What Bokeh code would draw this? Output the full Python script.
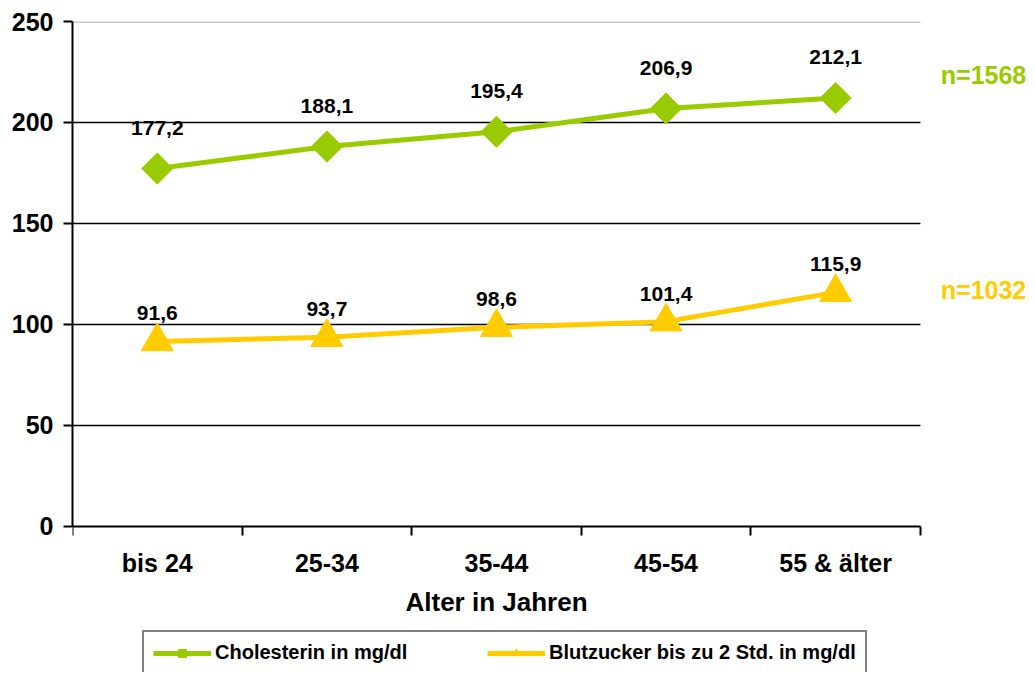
from bokeh.plotting import figure
from bokeh.models import (ColumnDataSource, Range1d, FixedTicker,
                          Legend, LegendItem, Label)
from bokeh.core.properties import value
from bokeh.embed import file_html
from bokeh.resources import INLINE
import numpy as np

categories = ["bis 24", "25-34", "35-44", "45-54", "55 & älter"]
cholesterin = [177.2, 188.1, 195.4, 206.9, 212.1]
blutzucker = [91.6, 93.7, 98.6, 101.4, 115.9]
series_names = ["Cholesterin in mg/dl", "Blutzucker bis zu 2 Std. in mg/dl"]
n_labels = ["n=1568", "n=1032"]
y_ticks = [0, 50, 100, 150, 200, 250]
x_title = "Alter in Jahren"

GREEN = "#99CC00"
YELLOW = "#FFCC00"
FONT = "Liberation Sans"

def fmt(v):
    return f"{v:.1f}".replace(".", ",")

ncat = len(categories)
# category slot centres on a linear scale (slot i spans [i, i+1])
xpos = [i + 0.5 for i in range(ncat)]

src_g = ColumnDataSource(dict(x=xpos, y=cholesterin, t=[fmt(v) for v in cholesterin]))
src_y = ColumnDataSource(dict(x=xpos, y=blutzucker, t=[fmt(v) for v in blutzucker]))

# the frame is extended right and down so that n= labels and the legend are not clipped;
# the axes are pinned to the category area
p = figure(width=1032, height=672, output_backend="svg", toolbar_location=None,
           x_range=Range1d(0, ncat + 0.649), y_range=Range1d(-72.3, 250),
           min_border_left=72, min_border_right=2,
           min_border_top=21, min_border_bottom=0)
p.outline_line_color = None
p.background_fill_color = "white"
p.border_fill_color = "white"
p.xgrid.visible = False
p.ygrid.visible = False

grid_y = [t for t in y_ticks if 0 < t < y_ticks[-1]]
p.segment(x0=[0] * len(grid_y), x1=[ncat] * len(grid_y), y0=grid_y, y1=grid_y,
          line_color="black", line_width=1.5)
p.segment(x0=[0], x1=[ncat], y0=[y_ticks[-1]], y1=[y_ticks[-1]],
          line_color="#c8c8c8", line_width=3)

xaxis = p.xaxis[0]
xaxis.fixed_location = 0
xaxis.bounds = (0, ncat)
xaxis.ticker = FixedTicker(ticks=xpos, minor_ticks=list(range(ncat + 1)))
xaxis.major_label_overrides = {c: lab for c, lab in zip(xpos, categories)}
xaxis.axis_line_color = "black"
xaxis.axis_line_width = 2
xaxis.major_tick_line_color = None
xaxis.major_tick_out = 0
xaxis.major_tick_in = 0
xaxis.minor_tick_line_color = "black"
xaxis.minor_tick_line_width = 2
xaxis.minor_tick_out = 9
xaxis.minor_tick_in = 0
xaxis.major_label_standoff = 14
xaxis.major_label_text_font = FONT
xaxis.major_label_text_font_style = "bold"
xaxis.major_label_text_font_size = "25px"
xaxis.major_label_text_color = "black"
xaxis.axis_label = x_title
xaxis.axis_label_standoff = 6
xaxis.axis_label_text_font = FONT
xaxis.axis_label_text_font_style = "bold"
xaxis.axis_label_text_font_size = "26px"
xaxis.axis_label_text_color = "black"

ya = p.yaxis[0]
ya.bounds = (0, y_ticks[-1])
ya.ticker = FixedTicker(ticks=y_ticks)
ya.axis_line_color = "black"
ya.axis_line_width = 2
ya.major_tick_line_color = "black"
ya.major_tick_line_width = 2
ya.major_tick_out = 9
ya.major_tick_in = 0
ya.minor_tick_line_color = None
ya.major_label_standoff = 10
ya.major_label_text_font = FONT
ya.major_label_text_font_style = "bold"
ya.major_label_text_font_size = "25px"
ya.major_label_text_color = "black"

lg = p.line("x", "y", source=src_g, line_color=GREEN, line_width=5)
sg = p.scatter("x", "y", source=src_g, marker="square", angle=np.pi / 4, size=22,
               fill_color=GREEN, line_color=GREEN)
ly = p.line("x", "y", source=src_y, line_color=YELLOW, line_width=5)
sy = p.scatter("x", "y", source=src_y, marker="triangle", size=32,
               fill_color=YELLOW, line_color=YELLOW)

for src, off in ((src_g, -41), (src_y, -28)):
    p.text("x", "y", text="t", source=src, y_offset=off, text_align="center",
           text_baseline="middle", text_font=value(FONT), text_font_style="bold",
           text_font_size="21px", text_color="black")

for lab, yv, col in zip(n_labels, [223.3, 117.3], [GREEN, YELLOW]):
    p.add_layout(Label(x=ncat + 0.12, y=yv, text=lab, text_color=col,
                       text_font=FONT, text_font_style="bold", text_font_size="25px",
                       text_baseline="middle", text_align="left"))

legend = Legend(items=[LegendItem(label=series_names[0], renderers=[lg, sg]),
                       LegendItem(label=series_names[1], renderers=[ly, sy])],
                location=(70, -3), orientation="horizontal",
                glyph_width=58, glyph_height=20, label_standoff=4, label_width=268,
                spacing=4, padding=9, margin=0,
                label_text_font=FONT, label_text_font_style="bold",
                label_text_font_size="20px", label_text_color="black",
                border_line_color="black", border_line_width=2,
                background_fill_color="white", background_fill_alpha=1)
p.add_layout(legend, "center")

open("out.html", "w").write(file_html(p, INLINE))
